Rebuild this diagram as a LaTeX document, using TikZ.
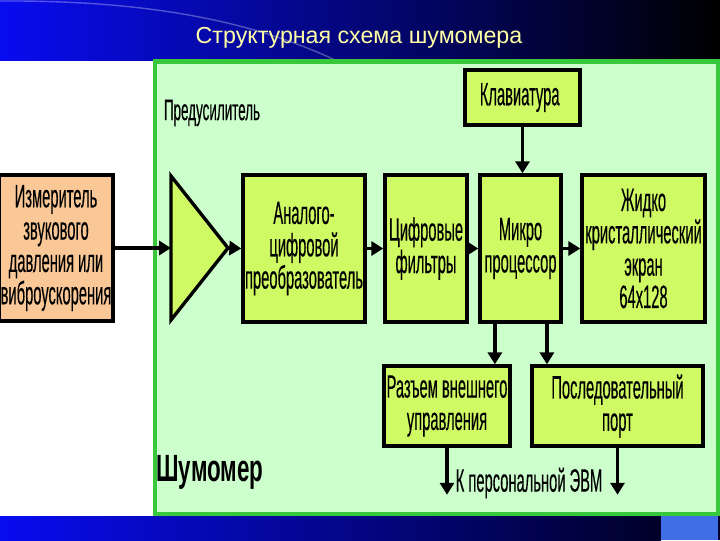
\documentclass[tikz,border=0pt]{standalone}
\usepackage{fontspec}
\setmainfont{Liberation Sans}
\newfontfamily\condfont{Liberation Sans}[FakeStretch=0.455, FakeBold=0.25]
\newfontfamily\condbold{Liberation Sans}[FakeStretch=0.59]
\usetikzlibrary{positioning, arrows.meta, calc}
\definecolor{hdrblue}{RGB}{8,12,240}
\definecolor{hdrmid}{RGB}{0,0,160}
\definecolor{titleyel}{RGB}{255,255,165}
\definecolor{panelfill}{RGB}{204,255,204}
\definecolor{panelline}{RGB}{55,200,60}
\definecolor{boxgreen}{RGB}{208,250,100}
\definecolor{peach}{RGB}{250,200,150}
\definecolor{sqblue}{RGB}{64,110,230}
\definecolor{barnavy}{RGB}{0,0,40}

\begin{document}
\begin{tikzpicture}[
        x=0.025cm, y=-0.025cm,
        box/.style={draw, line width=2.4pt, fill=#1, align=center, inner sep=1pt,
            font={\condfont\fontsize{23}{23}\selectfont}},
        box/.default=boxgreen,
        arr/.style={-{Triangle[length=8.5pt,width=10pt]}, line width=2.6pt},
        lbl/.style={font={\condfont\fontsize{21}{22}\selectfont}},
    ]
    \useasboundingbox (0,0) rectangle (720,540);

    % Header and footer bars
    \shade[left color=hdrblue, middle color=hdrmid, right color=black] (0,0) rectangle (720,60);
    \draw[white, opacity=0.3, line width=1pt] (0,1) .. controls (160,0) and (260,25) .. (335,60);
    \node[text=titleyel, font=\fontsize{16.5}{20}\selectfont] (title) at (359,38) {Структурная схема шумомера};
    \shade[left color=hdrblue, right color=barnavy] (0,516) rectangle (661,540);
    \fill[sqblue] (661,516) rectangle (718,540);
    \fill[barnavy] (718,516) rectangle (720,540);

    % Instrument panel
    \draw[panelline, line width=3pt, fill=panelfill] (155,61.5) rectangle (718,514);

    % Signal chain
    \node[box=peach, minimum width=2.85cm, minimum height=3.65cm] (inp) at (56,248)
        {Измеритель\\звукового\\давления или\\виброускорения};
    \coordinate (ampin) at (171,248);
    \coordinate (ampout) at (228,248);
    \draw[line width=2.4pt, fill=boxgreen, line join=miter] (171,176) -- (ampout) -- (171,320) -- cycle;
    \node[box, minimum width=3.05cm, minimum height=3.675cm] (adc) at (304,248.5)
        {Аналого-\\цифровой\\преобразователь};
    \node[box, minimum width=2.05cm, minimum height=3.675cm] (filt) at (426,248.5)
        {Цифровые\\фильтры};
    \node[box, minimum width=2.025cm, minimum height=3.675cm] (mcu) at (520.5,248.5)
        {Микро\\процессор};
    \node[box, minimum width=3.075cm, minimum height=3.675cm] (lcd) at (643.5,248.5)
        {Жидко\\кристаллический\\экран\\64x128};
    \node[box, minimum width=2.875cm, minimum height=1.375cm] (kbd) at (522.5,97.5)
        {\hspace*{-4pt}Клавиатура};

    % Outputs
    \node[box, minimum width=3.15cm, minimum height=2cm] (conn) at (447,406)
        {Разъем внешнего\\управления};
    \node[box, minimum width=4.275cm, minimum height=2cm] (port) at (617.5,406)
        {Последовательный\\порт};

    % Labels
    \node[lbl] (pre) at (212,113) {Предусилитель};
    \node[font={\condbold\bfseries\fontsize{27}{28}\selectfont}] (meter) at (210,472) {Шумомер};
    \node[box, draw=none, fill=none] (pc) at (529,483) {К персональной ЭВМ};

    % Flow arrows
    \draw[arr] (inp.east) -- (ampin);
    \draw[arr] (ampout) -- (adc.west);
    \foreach \i/\j in {adc/filt, filt/mcu, mcu/lcd} {
        \draw[arr] (\i.east) -- (\j.west);
    }
    \draw[arr] (kbd.south) -- (kbd.south |- mcu.north);
    \coordinate (m1) at ([xshift=-0.64cm]mcu.south);
    \coordinate (m2) at ([xshift=0.66cm]mcu.south);
    \draw[arr] (m1) -- (m1 |- conn.north);
    \draw[arr] (m2) -- (m2 |- port.north);
    \coordinate (pcA) at ([yshift=-1.175cm]conn.south);
    \coordinate (pcB) at ([yshift=-1.175cm]port.south);
    \draw[arr] (conn.south) -- (pcA);
    \draw[arr] (port.south) -- (pcB);

\end{tikzpicture}
\end{document}
